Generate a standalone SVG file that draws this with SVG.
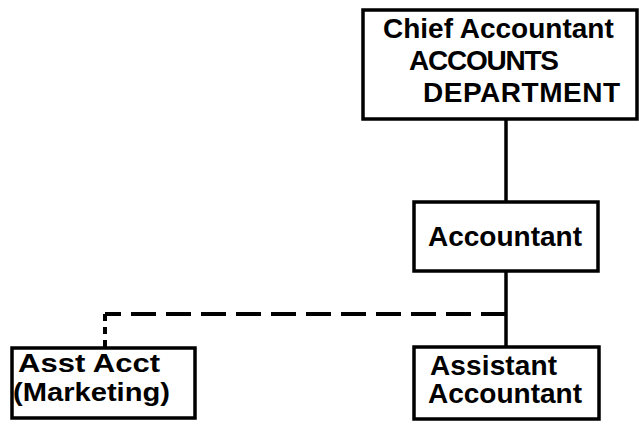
<svg xmlns="http://www.w3.org/2000/svg" width="639" height="424" viewBox="0 0 639 424">
<style>
.box{fill:#fff;stroke:#000;stroke-width:3.5}
.t{font-family:"Liberation Sans",Arial,sans-serif;font-weight:bold;font-size:28px;fill:#000}
.s{font-size:25px}
.ln{stroke:#000;stroke-width:3.5;fill:none}
.dh{stroke:#000;stroke-width:4;fill:none;stroke-dasharray:25 10}
.dv{stroke:#000;stroke-width:4;fill:none;stroke-dasharray:7 6}
</style>
<rect width="639" height="424" fill="#fff"/>
<g id="connectors">
<line class="ln" x1="506" y1="119" x2="506" y2="202"/>
<line class="ln" x1="506" y1="271" x2="506" y2="347"/>
<line class="dh" x1="506" y1="314" x2="105" y2="314"/>
<line class="dv" x1="105" y1="314" x2="105" y2="348"/>
</g>
<g id="chief">
<rect class="box" x="363" y="10" width="274" height="109"/>
<text class="t" x="383" y="38">Chief Accountant</text>
<text class="t" x="409" y="70" textLength="150">ACCOUNTS</text>
<text class="t" x="423" y="102" textLength="197">DEPARTMENT</text>
</g>
<g id="accountant">
<rect class="box" x="414" y="202" width="184" height="69"/>
<text class="t" x="428" y="246" textLength="154">Accountant</text>
</g>
<g id="asst-acct">
<rect class="box" x="12" y="348" width="183" height="70"/>
<text class="t s" x="18" y="372" textLength="142" lengthAdjust="spacingAndGlyphs">Asst Acct</text>
<text class="t s" x="13" y="401" textLength="157" lengthAdjust="spacingAndGlyphs">(Marketing)</text>
</g>
<g id="assistant">
<rect class="box" x="414" y="347" width="185" height="72"/>
<text class="t" x="430" y="375" textLength="127">Assistant</text>
<text class="t" x="428" y="403" textLength="154">Accountant</text>
</g>
</svg>
